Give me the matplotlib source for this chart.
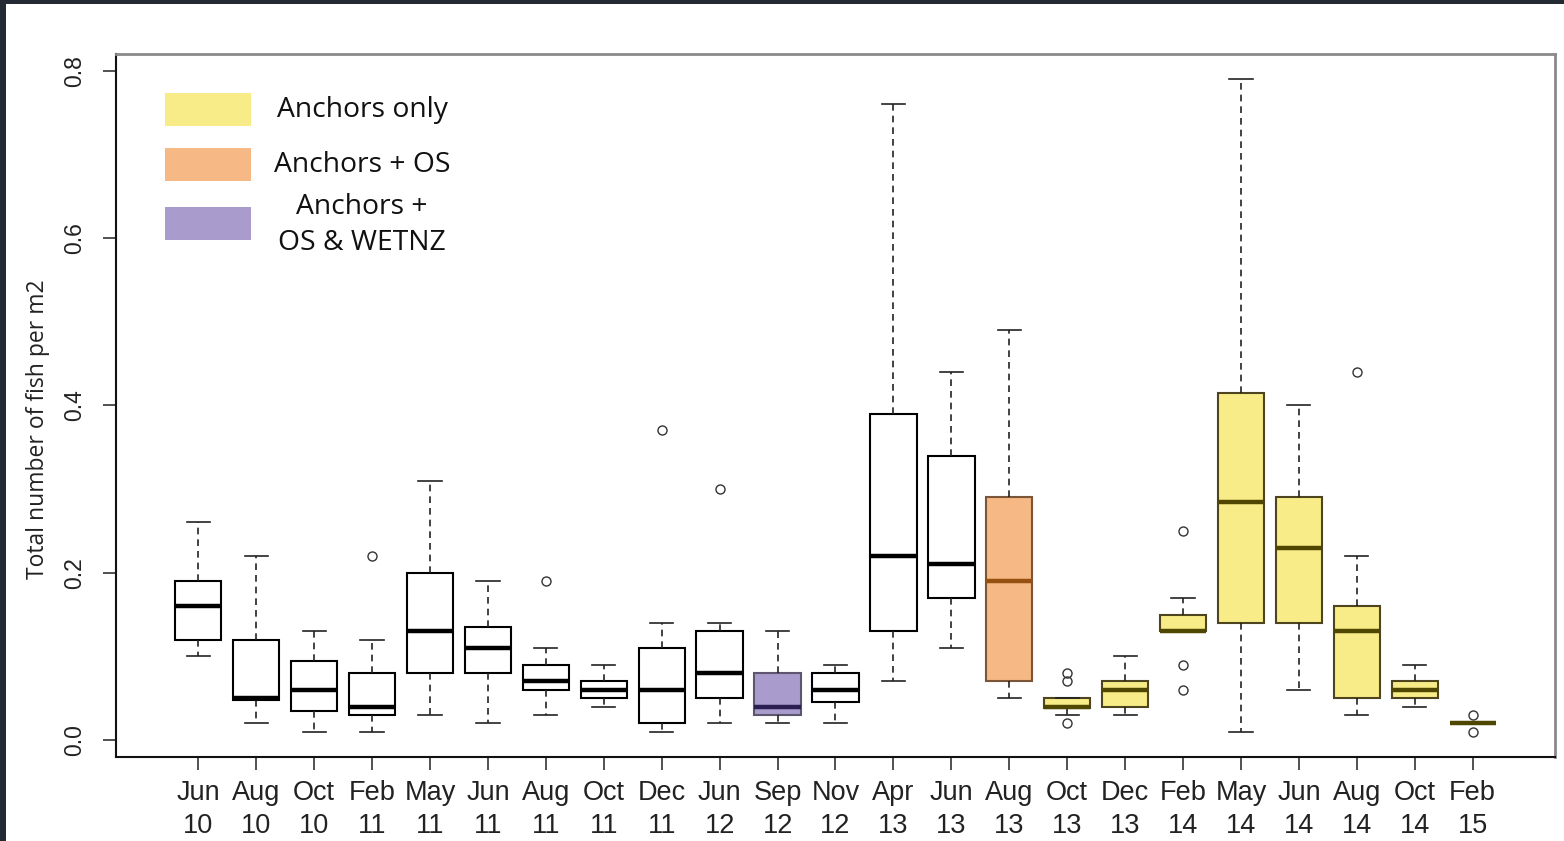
import matplotlib
matplotlib.use("Agg")
import matplotlib.pyplot as plt
from matplotlib.patches import Rectangle

# 采样月份 / 年份
months = ["Jun", "Aug", "Oct", "Feb", "May", "Jun", "Aug", "Oct", "Dec", "Jun", "Sep", "Nov",
          "Apr", "Jun", "Aug", "Oct", "Dec", "Feb", "May", "Jun", "Aug", "Oct", "Feb"]
years = ["10", "10", "10", "11", "11", "11", "11", "11", "11", "12", "12", "12",
         "13", "13", "13", "13", "13", "14", "14", "14", "14", "14", "15"]

# 箱线图五数概括（单位：尾/m2）
whislo = [0.10, 0.02, 0.01, 0.01, 0.03, 0.02, 0.03, 0.04, 0.01, 0.02, 0.02, 0.02,
          0.07, 0.11, 0.05, 0.03, 0.03, 0.13, 0.01, 0.06, 0.03, 0.04, 0.02]
q1 = [0.12, 0.048, 0.035, 0.03, 0.08, 0.08, 0.06, 0.05, 0.02, 0.05, 0.03, 0.045,
      0.13, 0.17, 0.07, 0.038, 0.04, 0.13, 0.14, 0.14, 0.05, 0.05, 0.02]
med = [0.16, 0.05, 0.06, 0.04, 0.13, 0.11, 0.07, 0.06, 0.06, 0.08, 0.04, 0.06,
       0.22, 0.21, 0.19, 0.04, 0.06, 0.13, 0.285, 0.23, 0.13, 0.06, 0.02]
q3 = [0.19, 0.12, 0.095, 0.08, 0.20, 0.135, 0.09, 0.07, 0.11, 0.13, 0.08, 0.08,
      0.39, 0.34, 0.29, 0.05, 0.07, 0.15, 0.415, 0.29, 0.16, 0.07, 0.02]
whishi = [0.26, 0.22, 0.13, 0.12, 0.31, 0.19, 0.11, 0.09, 0.14, 0.14, 0.13, 0.09,
          0.76, 0.44, 0.49, 0.05, 0.10, 0.17, 0.79, 0.40, 0.22, 0.09, 0.02]
fliers = [[], [], [], [0.22], [], [], [0.19], [], [0.37], [0.30], [], [],
          [], [], [], [0.02, 0.07, 0.08], [], [0.06, 0.09, 0.25], [], [], [0.44], [], [0.01, 0.03]]

# 处理方式：none / anchors / os / wetnz
treatment = ["none"] * 10 + ["wetnz", "none", "none", "none", "os"] + ["anchors"] * 8

legend_labels = ["Anchors only", "Anchors + OS", "Anchors +\nOS & WETNZ"]
legend_keys = ["anchors", "os", "wetnz"]

fill_colors = {"none": "white", "anchors": "#F8EC88", "os": "#F6B884", "wetnz": "#A99BCB"}
edge_colors = {"none": "black", "anchors": "#4d4520", "os": "#7a5538", "wetnz": "#5e5670"}
median_colors = {"none": "black", "anchors": "#4f4600", "os": "#96500f", "wetnz": "#2b1f52"}

fig = plt.figure(figsize=(15.64, 8.41), dpi=100)
ax = fig.add_axes([0.0742, 0.0999, 0.92, 0.8359])

stats = []
for i in range(len(months)):
    stats.append(dict(med=med[i], q1=q1[i], q3=q3[i], whislo=whislo[i], whishi=whishi[i],
                      fliers=fliers[i], label=months[i] + "\n" + years[i]))

bp = ax.bxp(stats, positions=range(1, len(stats) + 1), widths=0.8, capwidths=0.4,
            patch_artist=True, showfliers=True,
            boxprops=dict(linewidth=1.5),
            medianprops=dict(linewidth=3.2, solid_capstyle="butt"),
            whiskerprops=dict(linewidth=1.2, linestyle=(0, (4, 3))),
            capprops=dict(linewidth=1.2),
            flierprops=dict(marker="o", markerfacecolor="none", markeredgecolor="#333333",
                            markersize=6.5, markeredgewidth=1.0))

for i, t in enumerate(treatment):
    bp["boxes"][i].set_facecolor(fill_colors[t])
    bp["boxes"][i].set_edgecolor(edge_colors[t])
    bp["medians"][i].set_color(median_colors[t])
    for ln in bp["whiskers"][2 * i:2 * i + 2] + bp["caps"][2 * i:2 * i + 2]:
        ln.set_color("#222222")

ax.set_xlim(-0.42, 24.42)
ax.set_ylim(-0.0203, 0.820)

# 坐标轴样式（R 风格）
tick_font = ["Liberation Sans", "DejaVu Sans"]
ax.set_yticks([0.0, 0.2, 0.4, 0.6, 0.8])
ax.set_yticklabels(["0.0", "0.2", "0.4", "0.6", "0.8"], rotation=90, va="center",
                   family=tick_font, fontsize=16.5, color="#222222")
ax.set_xticklabels([s["label"] for s in stats], family=tick_font, fontsize=19.5,
                   color="#222222", linespacing=1.33)
ax.tick_params(axis="both", length=9.5, width=1.2, color="#333333")
ax.tick_params(axis="x", pad=7)
ax.tick_params(axis="y", pad=12)
for side in ["left", "bottom"]:
    ax.spines[side].set_color("#111111")
    ax.spines[side].set_linewidth(1.5)
for side in ["top", "right"]:
    ax.spines[side].set_color("#8a8a8a")
    ax.spines[side].set_linewidth(2.0)

ax.set_ylabel("Total number of fish per m2", family=["Open Sans", "DejaVu Sans"],
              fontsize=16.5, color="#222222", va="center")
ax.yaxis.set_label_coords(-0.0542, 0.4666)

# 图例（手动绘制色块与文字）
rect_y = [0.8976, 0.8193, 0.7354]
text_y = [0.9203, 0.842, 0.757]
for k, lab, ry, ty in zip(legend_keys, legend_labels, rect_y, text_y):
    ax.add_patch(Rectangle((0.034, ry), 0.0598, 0.047, transform=ax.transAxes,
                           facecolor=fill_colors[k], edgecolor="none"))
    ax.text(0.171, ty, lab, transform=ax.transAxes, ha="center", va="center",
            family=["Open Sans", "DejaVu Sans"], fontsize=20.3, color="#111111",
            linespacing=1.4, multialignment="center")

# 外围深色边框
fig.patches.append(Rectangle((0, 1 - 4 / 841), 1, 4 / 841, transform=fig.transFigure,
                             facecolor="#232a33", edgecolor="none"))
fig.patches.append(Rectangle((0, 0), 6 / 1564, 1, transform=fig.transFigure,
                             facecolor="#232a33", edgecolor="none"))

fig.savefig("out.png", dpi=100)
